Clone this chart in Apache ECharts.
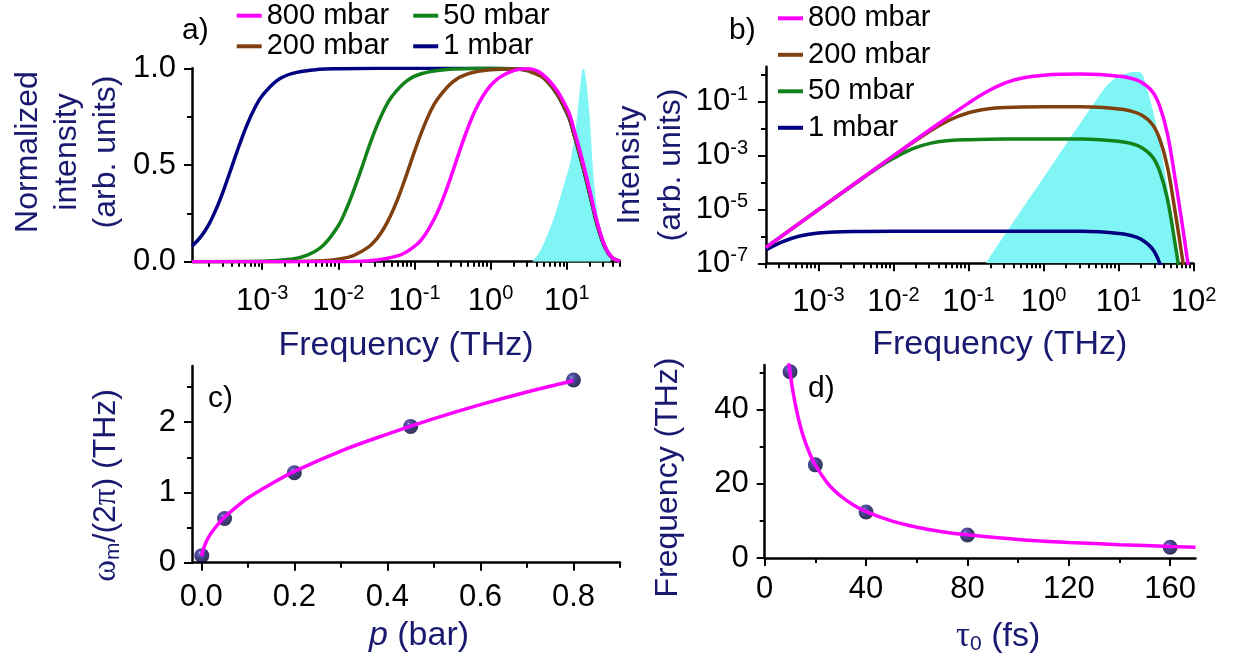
<!DOCTYPE html>
<html>
<head>
<meta charset="utf-8">
<script src="https://cdn.jsdelivr.net/npm/echarts@6.0.0/dist/echarts.min.js"></script>
<style>
  html, body { margin: 0; padding: 0; background: #fff; }
  #main { width: 1233px; height: 663px; }
</style>
</head>
<body>
<div id="main"></div>
<script>
// ---- panel a: normalized spectra (frequency in THz) ----
var aFreqNavy = [1.2e-4, 1.58e-4, 2.0e-4, 2.51e-4, 3.16e-4, 3.98e-4, 5.01e-4, 6.31e-4, 7.94e-4, 1e-3, 1.58e-3, 2.51e-3, 5.01e-3, 0.01, 0.1, 1, 3.16, 5.62, 10, 12.6, 15.8, 20, 25.1, 31.6, 39.8, 50];
var aNavy = [0.08, 0.131, 0.193, 0.275, 0.376, 0.489, 0.602, 0.706, 0.792, 0.858, 0.938, 0.974, 0.993, 0.998, 1.0, 1.0, 0.99, 0.93, 0.77, 0.65, 0.51, 0.35, 0.19, 0.075, 0.018, 0.003];
var aFreqGreen = [1.2e-4, 1e-3, 2.51e-3, 3.98e-3, 6.31e-3, 0.01, 0.0126, 0.0158, 0.02, 0.0251, 0.0316, 0.0398, 0.0501, 0.0794, 0.126, 0.251, 0.631, 1, 3.16, 5.62, 10, 12.6, 15.8, 20, 25.1, 31.6, 39.8, 50];
var aGreen = [0.0, 0.002, 0.014, 0.035, 0.084, 0.186, 0.267, 0.365, 0.477, 0.591, 0.696, 0.784, 0.852, 0.935, 0.973, 0.993, 0.999, 1.0, 0.99, 0.93, 0.775, 0.655, 0.515, 0.355, 0.195, 0.078, 0.019, 0.003];
var aFreqBrown = [1.2e-4, 1e-3, 6.31e-3, 0.01, 0.0158, 0.0251, 0.0316, 0.0398, 0.0501, 0.0631, 0.0794, 0.1, 0.126, 0.158, 0.2, 0.316, 0.501, 1, 2, 3.16, 5.62, 10, 12.6, 15.8, 20, 25.1, 31.6, 39.8, 50];
var aBrown = [0.0, 0.0001, 0.005, 0.013, 0.032, 0.077, 0.116, 0.173, 0.249, 0.344, 0.454, 0.569, 0.676, 0.768, 0.84, 0.929, 0.971, 0.992, 0.996, 0.985, 0.93, 0.775, 0.655, 0.515, 0.355, 0.195, 0.078, 0.019, 0.003];
var aFreqPink = [1.2e-4, 0.01, 0.0251, 0.0631, 0.1, 0.126, 0.158, 0.2, 0.251, 0.316, 0.398, 0.501, 0.631, 0.794, 1, 1.26, 1.58, 2, 2.51, 3.16, 5.62, 10, 12.6, 15.8, 20, 25.1, 31.6, 39.8, 50];
var aPink = [0.0, 0.0, 0.005, 0.033, 0.079, 0.118, 0.177, 0.254, 0.351, 0.463, 0.581, 0.69, 0.784, 0.857, 0.911, 0.948, 0.971, 0.988, 0.997, 0.998, 0.945, 0.795, 0.675, 0.535, 0.37, 0.205, 0.082, 0.02, 0.003];
var aFreqCyan = [3.5, 4.4, 5.6, 7.1, 8.9, 11.2, 13.2, 14.8, 15.8, 16.6, 17.8, 20, 22.4, 26.3, 31.6, 38];
var aCyan = [0, 0.05, 0.14, 0.25, 0.38, 0.52, 0.7, 0.88, 0.98, 1.0, 0.95, 0.75, 0.45, 0.2, 0.07, 0];

// ---- panel b: absolute spectra ----
var bFreqPink = [2.0e-4, 1e-3, 0.01, 0.0316, 0.1, 0.178, 0.316, 0.562, 1, 3.16, 5.62, 10, 14.1, 20, 28.2, 35.5, 44.7, 56.2, 70.8, 89.1];
var bPink = [3.9e-7, 9.8e-6, 9.8e-4, 9.7e-3, 0.089, 0.24, 0.51, 0.79, 0.97, 1.06, 1.02, 0.89, 0.76, 0.54, 0.24, 0.068, 6.8e-3, 1.7e-4, 2.7e-6, 3.4e-8];
var bFreqBrown = [2.0e-4, 1e-3, 3.16e-3, 0.01, 0.0316, 0.0562, 0.1, 0.178, 0.316, 1, 3.16, 5.62, 10, 14.1, 20, 28.2, 35.5, 44.7, 56.2, 70.8, 89.1];
var bBrown = [3.9e-7, 9.8e-6, 9.8e-5, 9.7e-4, 8.5e-3, 0.021, 0.039, 0.054, 0.061, 0.0646, 0.065, 0.062, 0.054, 0.046, 0.0326, 0.0146, 4.1e-3, 4.1e-4, 1.03e-5, 1.6e-7, 2e-9];
var bFreqGreen = [2.0e-4, 1e-3, 3.16e-3, 5.62e-3, 0.01, 0.0178, 0.0316, 0.0562, 0.1, 0.316, 3.16, 5.62, 10, 14.1, 20, 28.2, 35.5, 44.7, 56.2, 70.8];
var bGreen = [3.9e-7, 9.8e-6, 9.5e-5, 2.9e-4, 7.9e-4, 1.77e-3, 2.9e-3, 3.6e-3, 3.9e-3, 4.1e-3, 4.1e-3, 3.9e-3, 3.4e-3, 2.9e-3, 2.06e-3, 9.2e-4, 2.6e-4, 2.6e-5, 6.5e-7, 1e-8];
var bFreqNavy = [2.0e-4, 3.16e-4, 5.62e-4, 1e-3, 3.16e-3, 0.01, 3.16, 5.62, 10, 14.1, 20, 28.2, 35.5, 44.7];
var bNavy = [3.1e-7, 6.0e-7, 1.03e-6, 1.34e-6, 1.52e-6, 1.55e-6, 1.55e-6, 1.48e-6, 1.29e-6, 1.1e-6, 7.8e-7, 3.5e-7, 9.8e-8, 1e-8];
var bFreqCyan = [0.17, 0.3, 0.5, 1, 2, 3, 5, 7, 10, 13, 16, 20, 24, 30, 38, 48, 58, 63];
var bCyan = [1.0e-7, 1.1e-6, 9e-6, 1.5e-4, 2.7e-3, 0.014, 0.11, 0.4, 0.9, 1.15, 1.3, 1.2, 0.3, 0.03, 1e-3, 2e-5, 5e-7, 1e-7];

// ---- panel c: modulation frequency vs pressure ----
var cP = [0.001, 0.05, 0.2, 0.45, 0.8];
var cW = [0.1, 0.63, 1.28, 1.94, 2.6];
var cFitP = [0.001, 0.003, 0.01, 0.02, 0.035, 0.05, 0.075, 0.1, 0.15, 0.2, 0.3, 0.4, 0.5, 0.6, 0.7, 0.8];
var cFitW = [0.092, 0.16, 0.29, 0.41, 0.54, 0.65, 0.79, 0.92, 1.12, 1.3, 1.59, 1.83, 2.05, 2.25, 2.43, 2.59];

// ---- panel d: frequency vs pulse duration ----
var dTau = [10, 20, 40, 80, 160];
var dF = [50.2, 25.1, 12.4, 6.2, 2.9];
var dFitTau = [9.2, 10, 11, 12.5, 15, 17.5, 20, 25, 30, 35, 40, 50, 60, 70, 80, 100, 120, 140, 160, 170];
var dFitF = [54.3, 50, 45.5, 40, 33.3, 28.6, 25, 20, 16.7, 14.3, 12.5, 10, 8.3, 7.1, 6.25, 5, 4.2, 3.6, 3.1, 2.9];

// tick positions
var aXTicks = [1e-3, 1e-2, 1e-1, 1, 10];
var aYTicks = [0, 0.5, 1];
var aYMinor = [0.25, 0.75];
var bXTicks = [1e-3, 1e-2, 1e-1, 1, 10, 100];
var bYTicks = [1e-7, 1e-5, 1e-3, 1e-1];
var bYMinor = [1e-6, 1e-4, 1e-2, 1];
var cXTicks = [0, 0.2, 0.4, 0.6, 0.8];
var cXMinor = [0.1, 0.3, 0.5, 0.7, 0.9];
var cYTicks = [0, 1, 2];
var cYMinor = [0.5, 1.5, 2.5];
var dXTicks = [0, 40, 80, 120, 160];
var dXMinor = [20, 60, 100, 140];
var dYTicks = [0, 20, 40];
var dYMinor = [10, 30, 50];

var FONT = "'Liberation Sans', Arial, sans-serif";
var SERIF = "'Liberation Serif', 'Times New Roman', serif";
var NAVYTXT = '#191970';
var PINK = '#ff00ff', BROWN = '#80400f', GREEN = '#12821a', NAVY = '#000080', CYAN = '#80f5f5';
var TICKFS = 31, NAMEFS = 32, XNAMEFS = 34, LEGFS = 29;

function logMinor(lo, hi) {
  var out = [];
  for (var e = -5; e <= 2; e++) {
    for (var k = 2; k <= 9; k++) {
      var v = k * Math.pow(10, e);
      if (v >= lo && v <= hi) out.push(v);
    }
  }
  return out;
}

function pow10(v) {
  return '{b|10}{s|' + Math.round(Math.log10(v)) + '}';
}
var powRich = {
  b: { fontSize: TICKFS, lineHeight: 35, fontFamily: FONT, color: '#000' },
  s: { fontSize: 20, lineHeight: 20, verticalAlign: 'top', fontFamily: FONT, color: '#000' }
};
function nameRich(fs) {
  return {
    g: { fontFamily: SERIF, fontSize: fs + 1, color: NAVYTXT },
    sub: { fontFamily: FONT, fontSize: 21, verticalAlign: 'bottom', lineHeight: 27, color: NAVYTXT },
    i: { fontFamily: FONT, fontStyle: 'italic', fontSize: fs, color: NAVYTXT }
  };
}

function mainAxis(o) {
  var fs = o.fs || NAMEFS;
  return {
    gridIndex: o.grid, type: o.type, min: o.min, max: o.max, position: o.pos,
    axisLine: { onZero: false, lineStyle: { color: '#000', width: 2.5 } },
    axisTick: { inside: false, length: 8, customValues: o.ticks, lineStyle: { color: '#000', width: 2 } },
    axisLabel: {
      customValues: o.ticks, formatter: o.fmt, margin: o.margin,
      fontSize: TICKFS, lineHeight: 31, fontFamily: FONT, color: '#000', rich: o.rich
    },
    splitLine: { show: false },
    name: o.name, nameLocation: 'middle', nameGap: o.gap,
    nameTextStyle: {
      fontSize: fs, fontFamily: FONT, color: NAVYTXT, lineHeight: o.lh || 36,
      padding: o.pad || 0, rich: nameRich(fs)
    }
  };
}
function minorAxis(grid, type, min, max, pos, vals) {
  return {
    gridIndex: grid, type: type, min: min, max: max, position: pos,
    axisLine: { show: false, onZero: false },
    axisLabel: { show: false },
    splitLine: { show: false },
    axisTick: { show: true, inside: false, length: 5, customValues: vals, lineStyle: { color: '#000', width: 2 } }
  };
}

function pairs(xs, ys) {
  return xs.map(function (x, i) { return [x, ys[i]]; });
}
function curve(name, color, xi, xs, ys) {
  return {
    name: name, type: 'line', xAxisIndex: xi, yAxisIndex: xi,
    data: pairs(xs, ys), smooth: 0.4, showSymbol: false, symbol: 'none',
    lineStyle: { color: color, width: 3.5 }, itemStyle: { color: color }
  };
}
function cyanArea(xi, xs, ys) {
  return {
    type: 'line', xAxisIndex: xi, yAxisIndex: xi, data: pairs(xs, ys),
    smooth: 0.3, showSymbol: false, symbol: 'none',
    lineStyle: { width: 0, color: CYAN }, itemStyle: { color: CYAN },
    areaStyle: { color: CYAN, opacity: 1, origin: 'start' }
  };
}
var ball = {
  type: 'radial', x: 0.36, y: 0.32, r: 0.72,
  colorStops: [
    { offset: 0, color: '#e4e4ff' },
    { offset: 0.1, color: '#3a3aa8' },
    { offset: 0.45, color: '#14146c' },
    { offset: 1, color: '#00002a' }
  ]
};
var legendText = { fontSize: LEGFS, lineHeight: 30, fontFamily: FONT, color: '#000' };

var chart = echarts.init(document.getElementById('main'));
chart.setOption({
  animation: false,
  backgroundColor: '#fff',
  textStyle: { fontFamily: FONT },
  grid: [
    { left: 192, top: 68.3, width: 428, height: 193.4, containLabel: false, outerBoundsMode: 'none' },
    { left: 766, top: 66.7, width: 427.5, height: 196.6, containLabel: false, outerBoundsMode: 'none' },
    { left: 192, top: 366, width: 428, height: 196.7, containLabel: false, outerBoundsMode: 'none' },
    { left: 764.7, top: 365, width: 430.8, height: 193, containLabel: false, outerBoundsMode: 'none' }
  ],
  xAxis: [
    mainAxis({ grid: 0, type: 'log', min: 1.2e-4, max: 50, pos: 'bottom', ticks: aXTicks, fmt: pow10, rich: powRich, margin: 22,
      name: 'Frequency (THz)', gap: 66, fs: XNAMEFS }),
    minorAxis(0, 'log', 1.2e-4, 50, 'bottom', logMinor(1.2e-4, 50)),
    mainAxis({ grid: 1, type: 'log', min: 2e-4, max: 100, pos: 'bottom', ticks: bXTicks, fmt: pow10, rich: powRich, margin: 22,
      name: 'Frequency (THz)', gap: 63, pad: [0, 0, 0, 40], fs: XNAMEFS }),
    minorAxis(1, 'log', 2e-4, 100, 'bottom', logMinor(2e-4, 100)),
    mainAxis({ grid: 2, type: 'value', min: -0.02, max: 0.9, pos: 'bottom', ticks: cXTicks,
      fmt: function (v) { return v.toFixed(1); }, margin: 19,
      name: '{i|p} (bar)', gap: 55, pad: [0, 0, 0, 26], fs: XNAMEFS }),
    minorAxis(2, 'value', -0.02, 0.9, 'bottom', cXMinor),
    mainAxis({ grid: 3, type: 'value', min: 0, max: 170, pos: 'bottom', ticks: dXTicks,
      fmt: function (v) { return String(v); }, margin: 16,
      name: '{g|τ}{sub|0} (fs)', gap: 61, pad: [0, 0, 0, 36], fs: XNAMEFS }),
    minorAxis(3, 'value', 0, 170, 'bottom', dXMinor)
  ],
  yAxis: [
    mainAxis({ grid: 0, type: 'value', min: 0, max: 1, pos: 'left', ticks: aYTicks,
      fmt: function (v) { return v.toFixed(1); }, margin: 16,
      name: 'Normalized\nintensity\n(arb. units)', gap: 66, lh: 39, pad: [0, 0, 0, 26] }),
    minorAxis(0, 'value', 0, 1, 'left', aYMinor),
    mainAxis({ grid: 1, type: 'log', min: 1e-7, max: 2, pos: 'left', ticks: bYTicks, fmt: pow10, rich: powRich, margin: 18,
      name: 'Intensity\n(arb. units)', gap: 72, lh: 41 }),
    minorAxis(1, 'log', 1e-7, 2, 'left', bYMinor),
    mainAxis({ grid: 2, type: 'value', min: 0, max: 2.8, pos: 'left', ticks: cYTicks,
      fmt: function (v) { return String(v); }, margin: 16,
      name: '{g|ω}{sub|m}/(2{g|π}) (THz)', gap: 68, pad: [0, 42, 0, 0] }),
    minorAxis(2, 'value', 0, 2.8, 'left', cYMinor),
    mainAxis({ grid: 3, type: 'value', min: 0, max: 52, pos: 'left', ticks: dYTicks,
      fmt: function (v) { return String(v); }, margin: 16,
      name: 'Frequency (THz)', gap: 79, pad: [0, 32, 0, 0] }),
    minorAxis(3, 'value', 0, 52, 'left', dYMinor)
  ],
  legend: [
    { data: ['800 mbar', '50 mbar'], left: 236.7, top: 0.7, padding: 0, itemGap: 24, icon: 'rect',
      itemWidth: 25, itemHeight: 4, selectedMode: false, textStyle: legendText },
    { data: ['200 mbar', '1 mbar'], left: 236.7, top: 31.3, padding: 0, itemGap: 24, icon: 'rect',
      itemWidth: 25, itemHeight: 4, selectedMode: false, textStyle: legendText },
    { data: ['800 mbar', '200 mbar', '50 mbar', '1 mbar'], orient: 'vertical', left: 778, top: 3.3, padding: 0,
      itemGap: 6.5, icon: 'rect', itemWidth: 25, itemHeight: 4, selectedMode: false, textStyle: legendText }
  ],
  graphic: [
    { type: 'text', left: 182, top: 16, style: { text: 'a)', font: '30px ' + FONT, fill: '#000' } },
    { type: 'text', left: 729, top: 16, style: { text: 'b)', font: '30px ' + FONT, fill: '#000' } },
    { type: 'text', left: 208, top: 384, style: { text: 'c)', font: '30px ' + FONT, fill: '#000' } },
    { type: 'text', left: 808, top: 374, style: { text: 'd)', font: '30px ' + FONT, fill: '#000' } }
  ],
  series: [
    cyanArea(0, aFreqCyan, aCyan),
    curve('1 mbar', NAVY, 0, aFreqNavy, aNavy),
    curve('50 mbar', GREEN, 0, aFreqGreen, aGreen),
    curve('200 mbar', BROWN, 0, aFreqBrown, aBrown),
    curve('800 mbar', PINK, 0, aFreqPink, aPink),

    cyanArea(2, bFreqCyan, bCyan),
    curve('1 mbar', NAVY, 2, bFreqNavy, bNavy),
    curve('50 mbar', GREEN, 2, bFreqGreen, bGreen),
    curve('200 mbar', BROWN, 2, bFreqBrown, bBrown),
    curve('800 mbar', PINK, 2, bFreqPink, bPink),

    { type: 'line', xAxisIndex: 4, yAxisIndex: 4, data: pairs(cFitP, cFitW), smooth: 0.4,
      showSymbol: false, symbol: 'none', lineStyle: { color: PINK, width: 3.5 } },
    { type: 'scatter', xAxisIndex: 4, yAxisIndex: 4, data: pairs(cP, cW), symbolSize: 15,
      itemStyle: { color: ball } },

    { type: 'line', xAxisIndex: 6, yAxisIndex: 6, data: pairs(dFitTau, dFitF), smooth: 0.4,
      showSymbol: false, symbol: 'none', lineStyle: { color: PINK, width: 3.5 } },
    { type: 'scatter', xAxisIndex: 6, yAxisIndex: 6, data: pairs(dTau, dF), symbolSize: 15,
      itemStyle: { color: ball } }
  ]
});
</script>
</body>
</html>
